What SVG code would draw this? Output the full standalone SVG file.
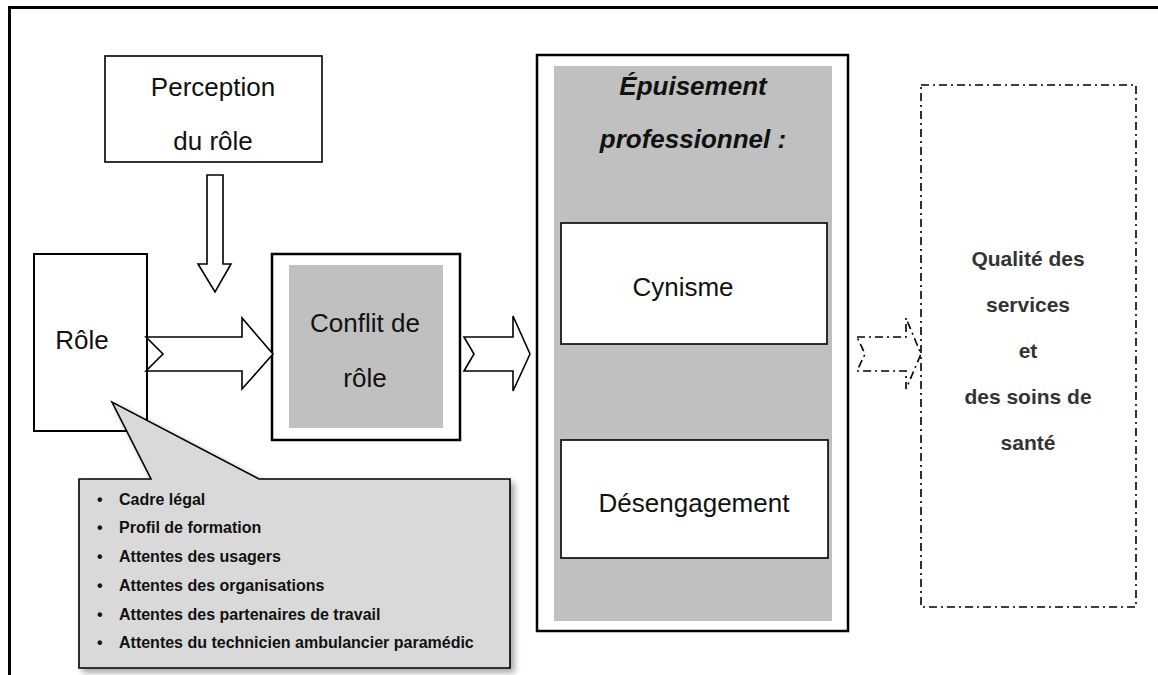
<svg xmlns="http://www.w3.org/2000/svg" width="1158" height="675" viewBox="0 0 1158 675">
<defs>
<style>
.t{font-family:"Liberation Sans",Arial,sans-serif;font-size:26px;fill:#111;text-anchor:middle}
.bi{font-weight:bold;font-style:italic}
.q{font-family:"Liberation Sans",Arial,sans-serif;font-size:21px;font-weight:bold;fill:#333;text-anchor:middle}
.b{font-family:"Liberation Sans",Arial,sans-serif;font-size:16px;font-weight:bold;fill:#111}
.arr{fill:#fff;stroke:#000;stroke-width:1.6;stroke-linejoin:miter}
.dd{fill:none;stroke:#000;stroke-width:1.6;stroke-dasharray:8 4 2 4}
.grey{fill:#c0c0c0}
</style>
<filter id="sh" x="-10%" y="-10%" width="130%" height="130%">
<feGaussianBlur in="SourceAlpha" stdDeviation="3"/>
<feOffset dx="4" dy="4" result="o"/>
<feComponentTransfer><feFuncA type="linear" slope="0.35"/></feComponentTransfer>
<feMerge><feMergeNode/><feMergeNode in="SourceGraphic"/></feMerge>
</filter>
</defs>
<rect width="1158" height="675" fill="#fff"/>
<rect x="9.5" y="7.5" width="1165" height="690" fill="none" stroke="#000" stroke-width="3"/>

<g id="perception">
<rect x="105" y="56" width="217" height="106" fill="#fff" stroke="#000" stroke-width="1.6"/>
<text class="t" x="213" y="96">Perception</text>
<text class="t" x="213" y="150">du rôle</text>
</g>

<g id="role">
<rect x="34" y="254" width="113" height="177" fill="#fff" stroke="#000" stroke-width="2"/>
<text class="t" x="82" y="349">Rôle</text>
</g>

<g id="conflit">
<rect x="272" y="254" width="188" height="186" fill="#fff" stroke="#000" stroke-width="2.5"/>
<rect class="grey" x="289" y="265" width="154" height="163"/>
<text class="t" x="365" y="332">Conflit de</text>
<text class="t" x="365" y="387">rôle</text>
</g>

<g id="epuisement">
<rect x="537" y="55" width="311" height="576" fill="#fff" stroke="#000" stroke-width="2.5"/>
<rect class="grey" x="554" y="66" width="278" height="555"/>
<text class="t bi" x="693" y="95">Épuisement</text>
<text class="t bi" x="693" y="148">professionnel :</text>
</g>

<g id="cynisme">
<rect x="561" y="223" width="266" height="121" fill="#fff" stroke="#000" stroke-width="1.6"/>
<text class="t" x="683" y="296">Cynisme</text>
</g>

<g id="desengagement">
<rect x="561" y="440" width="267" height="118" fill="#fff" stroke="#000" stroke-width="1.6"/>
<text class="t" x="694" y="512">Désengagement</text>
</g>

<g id="qualite">
<rect class="dd" x="921" y="85" width="215" height="522"/>
<text class="q" x="1028" y="266">Qualité des</text>
<text class="q" x="1028" y="312">services</text>
<text class="q" x="1028" y="358">et</text>
<text class="q" x="1028" y="404">des soins de</text>
<text class="q" x="1028" y="450">santé</text>
</g>

<g id="attentes">
<path d="M79,479 L151,479 L112,402 L259,479 L510,479 L510,668 L79,668 Z" fill="#d9d9d9" stroke="#000" stroke-width="1.6" filter="url(#sh)"/>
<g class="b">
<text x="97" y="505">•</text><text x="119" y="505">Cadre légal</text>
<text x="97" y="533">•</text><text x="119" y="533">Profil de formation</text>
<text x="97" y="562">•</text><text x="119" y="562">Attentes des usagers</text>
<text x="97" y="591">•</text><text x="119" y="591">Attentes des organisations</text>
<text x="97" y="620">•</text><text x="119" y="620">Attentes des partenaires de travail</text>
<text x="97" y="648">•</text><text x="119" y="648">Attentes du technicien ambulancier paramédic</text>
</g>
</g>

<g id="connectors">
<path class="arr" d="M207,175 L223,175 L223,264 L231,264 L215,292 L198,264 L207,264 Z"/>
<path class="arr" d="M146,337 L242,337 L242,318 L273,354 L242,389 L242,371 L146,371 L163,354 Z"/>
<path class="arr" d="M464,337 L513,337 L513,316 L530,354 L513,391 L513,371 L464,371 L474,354 Z"/>
<path class="dd" d="M857,337 L906,337 L906,318 L921,354 L906,389 L906,371 L857,371 L865,354 Z"/>
</g>
</svg>
